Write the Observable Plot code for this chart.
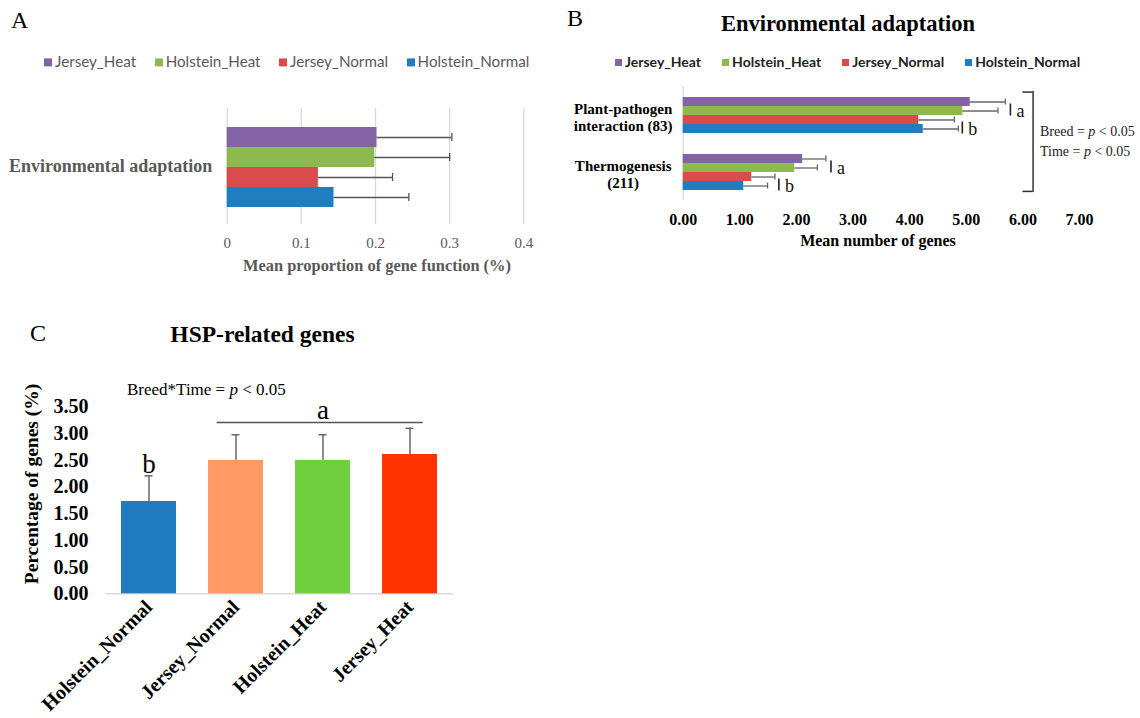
<!DOCTYPE html>
<html><head><meta charset="utf-8">
<script src="https://cdn.jsdelivr.net/npm/d3@7"></script>
<script src="https://cdn.jsdelivr.net/npm/@observablehq/plot@0.6"></script>
<style>
body{margin:0;background:#fff;}
#root{position:relative;width:1140px;height:718px;overflow:hidden;background:#fff;}
.abs{position:absolute;white-space:nowrap;line-height:1;}
.legend{position:absolute;display:flex;align-items:center;white-space:nowrap;line-height:1;}
.legend .item{display:flex;align-items:center;}
.legend .sw{display:inline-block;margin-right:3px;}
</style></head><body><div id="root"></div>
<script>
// ---------- data ----------
const seriesA = ["Jersey_Heat", "Holstein_Heat", "Jersey_Normal", "Holstein_Normal"];
const colorsA = ["#8463A5", "#8DBA4E", "#DA4C4C", "#1F7EC1"];
const categoryA = "Environmental adaptation";
const meanA = [0.202, 0.199, 0.123, 0.144];
const errA = [0.101, 0.101, 0.100, 0.101];
const ticksA = [0, 0.1, 0.2, 0.3, 0.4];

const categoriesB = ["Plant-pathogen\ninteraction (83)", "Thermogenesis\n(211)"];
const meanPlantB = [5.07, 4.94, 4.16, 4.24];
const errPlantB = [0.62, 0.62, 0.63, 0.62];
const meanThermoB = [2.11, 1.97, 1.21, 1.07];
const errThermoB = [0.41, 0.40, 0.41, 0.42];
const ticksB = [0, 1, 2, 3, 4, 5, 6, 7];
const lettersB = [
  {cat: categoriesB[0], x: 5.78, series: "Jersey_Heat", label: "a"},
  {cat: categoriesB[0], x: 4.93, series: "Jersey_Normal", label: "b"},
  {cat: categoriesB[1], x: 2.61, series: "Jersey_Heat", label: "a"},
  {cat: categoriesB[1], x: 1.69, series: "Jersey_Normal", label: "b"}
];
const bracketB = {x: 6.18, arm: 6.0};

const groupsC = ["Holstein_Normal", "Jersey_Normal", "Holstein_Heat", "Jersey_Heat"];
const colorsC = ["#1F7BBD", "#FF9966", "#70CF3F", "#FF3300"];
const meanC = [1.73, 2.50, 2.50, 2.61];
const errC = [0.48, 0.48, 0.48, 0.49];
const ticksC = [0, 0.5, 1, 1.5, 2, 2.5, 3, 3.5];
const lettersC = [
  {group: "Holstein_Normal", y: 2.43, label: "b"},
  {group: "Holstein_Heat", y: 3.44, label: "a"}
];
const lineC = {from: "Jersey_Normal", to: "Jersey_Heat", y: 3.21};

// ---------- helpers ----------
const root = document.getElementById("root");
const SERIF = '"Liberation Serif","Times New Roman",serif';
function place(el, left, top) {
  const d = document.createElement("div");
  d.style.cssText = `position:absolute;left:${left}px;top:${top}px;`;
  d.appendChild(el);
  root.appendChild(d);
}
function label(html, x, y, css, anchor = "start", rotate = 0) {
  const d = document.createElement("div");
  d.className = "abs";
  d.innerHTML = html;
  d.style.cssText += css;
  d.style.left = x + "px";
  d.style.top = y + "px";
  const tx = anchor === "middle" ? "-50%" : anchor === "end" ? "-100%" : "0";
  d.style.transform = `translate(${tx},-50%)` + (rotate ? ` rotate(${rotate}deg)` : "");
  root.appendChild(d);
  return d;
}
function legend(x, y, names, colors, css, sw, gap) {
  const d = document.createElement("div");
  d.className = "legend";
  d.style.cssText += css + `left:${x}px;top:${y}px;transform:translateY(-50%);gap:${gap}px;`;
  names.forEach((n, i) => {
    const it = document.createElement("div");
    it.className = "item";
    it.innerHTML = `<span class="sw" style="width:${sw}px;height:${sw}px;background:${colors[i]}"></span><span>${n}</span>`;
    d.appendChild(it);
  });
  root.appendChild(d);
}

// ---------- Panel A ----------
const dataA = seriesA.map((s, i) => ({series: s, mean: meanA[i], err: errA[i]}));
const plotA = Plot.plot({
  width: 560, height: 190,
  marginLeft: 226.7, marginRight: 36.7, marginTop: 8, marginBottom: 66,
  style: {fontFamily: SERIF, fontSize: "15px", color: "#595959", background: "transparent", overflow: "visible"},
  x: {domain: [0, 0.4], ticks: ticksA, tickFormat: d => d === 0 ? "0" : d3.format(".1f")(d), tickSize: 0, tickPadding: 13, label: null},
  y: {domain: seriesA, axis: null, padding: 0, insetTop: 18.7, insetBottom: 17.3},
  color: {domain: seriesA, range: colorsA},
  marks: [
    Plot.ruleX(ticksA, {stroke: "#d9d9d9", strokeWidth: 1.3}),
    Plot.barX(dataA, {x: "mean", y: "series", fill: "series"}),
    Plot.ruleY(dataA, {x1: "mean", x2: d => d.mean + d.err, y: "series", stroke: "#555", strokeWidth: 1.3}),
    Plot.tickX(dataA, {x: d => d.mean + d.err, y: "series", stroke: "#555", strokeWidth: 1.3, insetTop: 6, insetBottom: 6}),
    Plot.text([categoryA], {text: d => d, frameAnchor: "left", dx: -15, textAnchor: "end", fontWeight: "bold", fontSize: 18, fill: "#595959"})
  ]
});
place(plotA, 0, 100);
label("A", 11, 20, `font-family:${SERIF};font-size:24px;color:#000;`);
legend(44, 62, seriesA, colorsA, `font-family:Lato,sans-serif;font-size:15.2px;color:#595959;`, 8, 18.5);
label("Mean proportion of gene function (%)", 377, 266, `font-family:${SERIF};font-size:16.4px;font-weight:bold;color:#595959;`, "middle");

// ---------- Panel B ----------
const meansB = [meanPlantB, meanThermoB], errsB = [errPlantB, errThermoB];
const dataB = categoriesB.flatMap((c, ci) => seriesA.map((s, i) => ({cat: c, series: s, mean: meansB[ci][i], err: errsB[ci][i]})));
const plotB = Plot.plot({
  width: 580, height: 260,
  marginLeft: 122.7, marginRight: 61, marginTop: 85, marginBottom: 60,
  style: {fontFamily: SERIF, fontSize: "16px", fontWeight: "bold", color: "#000", background: "transparent", overflow: "visible"},
  fy: {domain: categoriesB, padding: 0, axis: null},
  x: {domain: [0, 7], ticks: ticksB, tickFormat: d3.format(".2f"), tickSize: 0, tickPadding: 13, label: null},
  y: {domain: seriesA, axis: null, padding: 0, insetTop: 10, insetBottom: 8.5},
  color: {domain: seriesA, range: colorsA},
  marks: [
    Plot.ruleX([0], {stroke: "#d9d9d9", strokeWidth: 1.3}),
    Plot.barX(dataB, {x: "mean", y: "series", fy: "cat", fill: "series"}),
    Plot.ruleY(dataB, {x1: "mean", x2: d => d.mean + d.err, y: "series", fy: "cat", stroke: "#666", strokeWidth: 1.3}),
    Plot.tickX(dataB, {x: d => d.mean + d.err, y: "series", fy: "cat", stroke: "#666", strokeWidth: 1.3, insetTop: 1.5, insetBottom: 1.5}),
    Plot.ruleX(lettersB, {x: "x", y1: "series", y2: "series", fy: "cat", stroke: "#222", strokeWidth: 1.6, insetTop: 6.5, insetBottom: -9.5}),
    Plot.text(lettersB, {x: "x", y: "series", fy: "cat", text: "label", dx: 6, dy: 9, textAnchor: "start", fontWeight: "normal", fontSize: 18, fill: "#111"}),
    Plot.text(categoriesB, {fy: d => d, text: d => d, frameAnchor: "left", dx: -60, dy: 2, textAnchor: "middle", lineHeight: 1.17, fontSize: 15, fill: "#000"}),
    // bracket
    Plot.ruleX([{cat: categoriesB[0]}], {x: () => bracketB.x, fy: "cat", stroke: "#333", strokeWidth: 1.5, insetTop: 5}),
    Plot.ruleX([{cat: categoriesB[1]}], {x: () => bracketB.x, fy: "cat", stroke: "#333", strokeWidth: 1.5, insetBottom: 8}),
    Plot.ruleY([{cat: categoriesB[0], series: seriesA[0]}], {x1: () => bracketB.arm, x2: () => bracketB.x, y: "series", fy: "cat", dy: -9.9, stroke: "#333", strokeWidth: 1.5}),
    Plot.ruleY([{cat: categoriesB[1], series: seriesA[3]}], {x1: () => bracketB.arm, x2: () => bracketB.x, y: "series", fy: "cat", dy: 5.4, stroke: "#333", strokeWidth: 1.5})
  ]
});
place(plotB, 560, 0);
label("B", 567, 18, `font-family:${SERIF};font-size:24px;color:#000;`);
label("Environmental adaptation", 848, 24, `font-family:${SERIF};font-size:22.5px;font-weight:bold;color:#000;`, "middle");
legend(615, 62, seriesA, colorsA, `font-family:Lato,sans-serif;font-size:14px;font-weight:bold;color:#222;`, 7, 21);
label("Mean number of genes", 878, 241, `font-family:${SERIF};font-size:16px;font-weight:bold;color:#000;`, "middle");
label("Breed = <i>p</i> &lt; 0.05", 1040, 132, `font-family:${SERIF};font-size:14px;color:#222;`);
label("Time = <i>p</i> &lt; 0.05", 1040, 152, `font-family:${SERIF};font-size:14px;color:#222;`);

// ---------- Panel C ----------
const dataC = groupsC.map((g, i) => ({group: g, mean: meanC[i], err: errC[i]}));
const plotC = Plot.plot({
  width: 480, height: 338,
  marginLeft: 105, marginRight: 27, marginTop: 26.5, marginBottom: 124.7,
  style: {fontFamily: SERIF, fontSize: "20px", fontWeight: "bold", color: "#000", background: "transparent", overflow: "visible"},
  x: {domain: groupsC, paddingInner: 0.37, paddingOuter: 0.185, tickRotate: -45, tickSize: 0, tickPadding: 10, label: null},
  y: {domain: [0, 3.5], ticks: ticksC, tickFormat: d3.format(".2f"), tickSize: 0, tickPadding: 17, label: null},
  color: {domain: groupsC, range: colorsC},
  marks: [
    Plot.ruleY([0], {stroke: "#d9d9d9", strokeWidth: 1.5}),
    Plot.barY(dataC, {x: "group", y: "mean", fill: "group"}),
    Plot.ruleX(dataC, {x: "group", y1: "mean", y2: d => d.mean + d.err, stroke: "#666", strokeWidth: 1.5}),
    Plot.tickY(dataC, {x: "group", y: d => d.mean + d.err, stroke: "#666", strokeWidth: 1.5, insetLeft: 23.5, insetRight: 23.5}),
    Plot.ruleY([lineC], {x1: "from", x2: "to", y: "y", stroke: "#555", strokeWidth: 1.5, insetLeft: 8.7, insetRight: 14.3}),
    Plot.text(lettersC, {x: "group", y: "y", text: "label", fontSize: 27, fontWeight: "normal", fill: "#000"})
  ]
});
place(plotC, 0, 380);
label("C", 30, 333, `font-family:${SERIF};font-size:24px;color:#000;`);
label("HSP-related genes", 262.5, 335, `font-family:${SERIF};font-size:23.5px;font-weight:bold;color:#000;`, "middle");
label("Breed*Time = <i>p</i> &lt; 0.05", 127, 389, `font-family:${SERIF};font-size:17px;color:#000;`);
label("Percentage of genes (%)", 31.7, 484, `font-family:${SERIF};font-size:19.5px;font-weight:bold;color:#000;`, "middle", -90);
</script></body></html>
